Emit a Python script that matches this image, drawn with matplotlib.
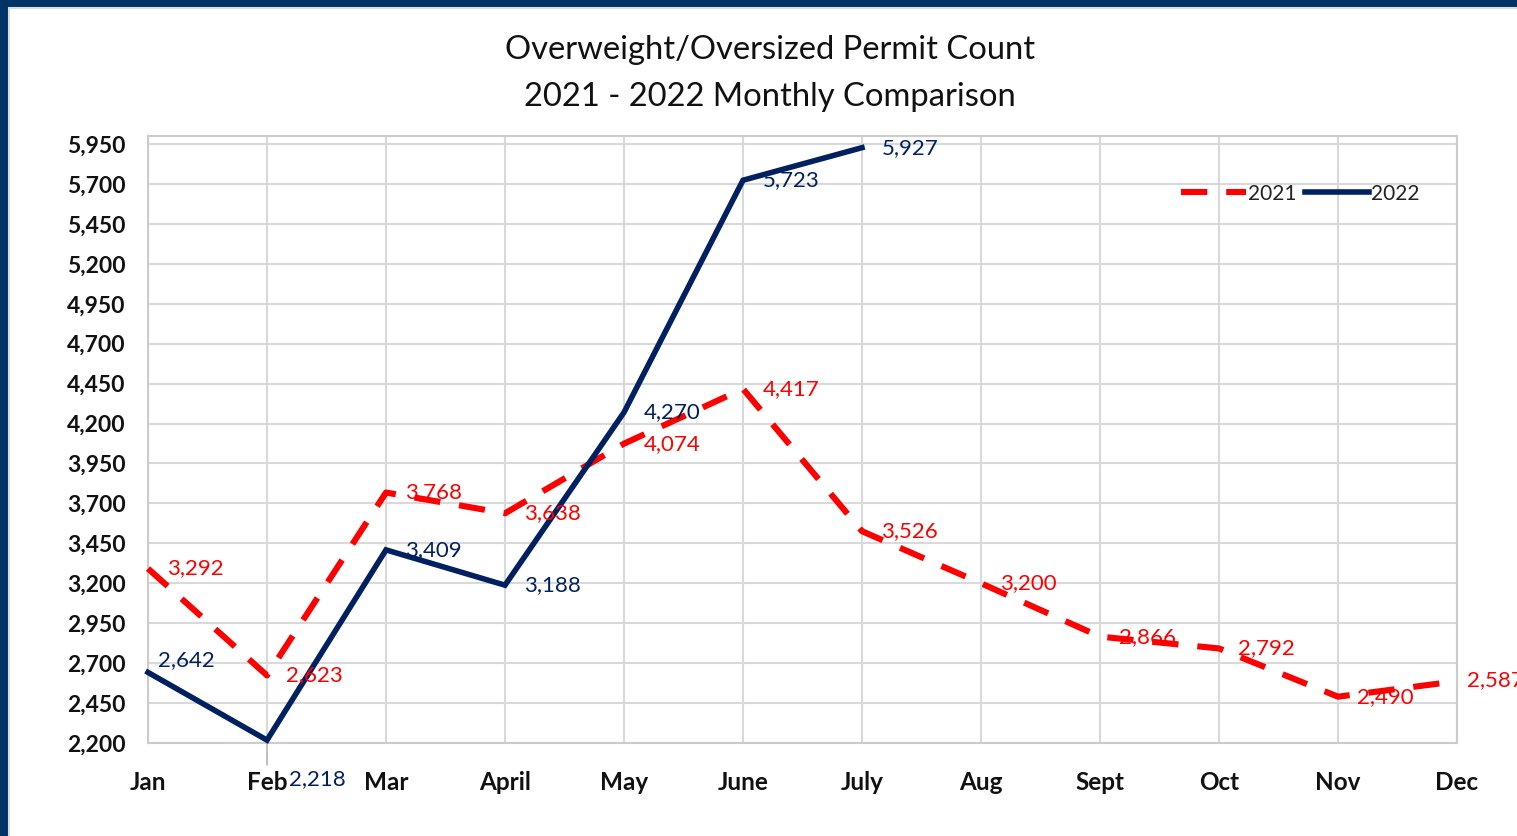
import matplotlib
matplotlib.use("Agg")
import matplotlib.pyplot as plt
from matplotlib.patches import Rectangle
from matplotlib.ticker import FuncFormatter

# Monthly permit counts
months = ["Jan", "Feb", "Mar", "April", "May", "June", "July",
          "Aug", "Sept", "Oct", "Nov", "Dec"]
counts_2021 = [3292, 2623, 3768, 3638, 4074, 4417, 3526, 3200, 2866, 2792, 2490, 2587]
counts_2022 = [2642, 2218, 3409, 3188, 4270, 5723, 5927]
y_ticks = list(range(2200, 5951, 250))

RED = "#FF0000"
NAVY = "#002060"
FRAME = "#003366"
GRID = "#D9D9D9"
FONT = ["Lato", "DejaVu Sans"]

plt.rcParams["font.family"] = FONT

W, H = 1517, 836
fig = plt.figure(figsize=(W / 100, H / 100), dpi=100)
fig.patch.set_facecolor(FRAME)

# White panel inside the dark frame (open to the right and bottom edges)
fig.patches.append(Rectangle((9 / W, -0.05), 1.1, 1.05 - 8 / H,
                             transform=fig.transFigure, facecolor="white",
                             edgecolor="#DDDDDD", linewidth=1.5, zorder=-5))

ax = fig.add_axes([148 / W, 1 - 743 / H, (1457 - 148) / W, (743 - 136) / H])
ax.set_facecolor("white")
ax.set_zorder(2)

x21 = list(range(len(counts_2021)))
x22 = list(range(len(counts_2022)))

ax.plot(x21, counts_2021, color=RED, lw=4.4, dashes=(4.3, 3.1),
        label="2021", clip_on=False, zorder=3, solid_capstyle="butt",
        dash_capstyle="butt")
ax.plot(x22, counts_2022, color=NAVY, lw=4.0, label="2022",
        clip_on=False, zorder=4, solid_joinstyle="miter")

ax.set_xlim(0, len(months) - 1)
ax.set_ylim(2200, 6000)
ax.set_xticks(x21)
ax.set_xticklabels(months)
ax.set_yticks(y_ticks)
ax.yaxis.set_major_formatter(FuncFormatter(lambda v, p: f"{int(v):,}"))

ax.grid(True, color=GRID, lw=1.5)
ax.set_axisbelow(True)
for s in ax.spines.values():
    s.set_color("#CCCCCC")
    s.set_linewidth(1.5)
ax.tick_params(length=0)
ax.tick_params(axis="y", pad=16, labelsize=16.5)
ax.tick_params(axis="x", pad=20, labelsize=17.5)
for t in ax.get_xticklabels() + ax.get_yticklabels():
    t.set_fontweight("bold")
    t.set_color("#111111")

# Data labels
last = len(counts_2021) - 1
for xi, v in zip(x21, counts_2021):
    off = (7, 1) if xi == last else (14, 0)
    ax.annotate(f"{v:,}", (xi, v), xytext=off, textcoords="offset points",
                ha="left", va="center", color=RED, fontsize=16,
                annotation_clip=False, zorder=5)

for xi, v in zip(x22, counts_2022):
    if xi == 0:
        off = (7, 9)
    elif xi == 1:
        off = (16, -28)
    else:
        off = (14, 0)
    ax.annotate(f"{v:,}", (xi, v), xytext=off, textcoords="offset points",
                ha="left", va="center", color=NAVY, fontsize=16,
                annotation_clip=False, zorder=5)

# Leader line for the February 2022 label
ax.annotate("", xy=(1, counts_2022[1]), xytext=(0, -18),
            textcoords="offset points", annotation_clip=False,
            arrowprops=dict(arrowstyle="-", color="#A6A6A6", lw=1.0,
                            shrinkA=0, shrinkB=0))

leg = ax.legend(loc="upper right", bbox_to_anchor=(0.978, 0.935), frameon=False,
                ncol=2, fontsize=15, handlelength=3.1, handletextpad=0.1,
                columnspacing=0.4, borderaxespad=0)
for t in leg.get_texts():
    t.set_color("#222222")

fig.text(770 / W, 1 - 50 / H, "Overweight/Oversized Permit Count",
         ha="center", va="center", fontsize=23.6, color="#111111")
fig.text(770 / W, 1 - 97 / H, "2021 - 2022 Monthly Comparison",
         ha="center", va="center", fontsize=23.6, color="#111111")

fig.savefig("out.png", dpi=100, facecolor=fig.get_facecolor())
